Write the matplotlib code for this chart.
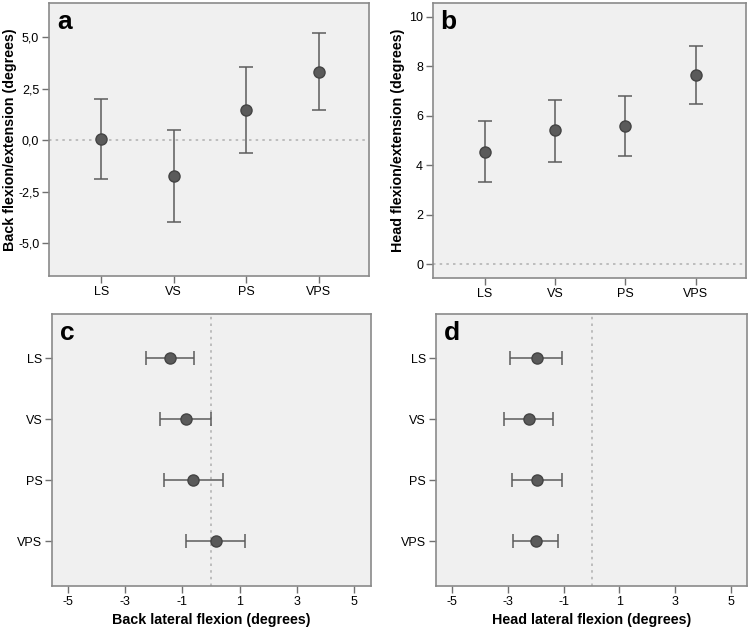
import matplotlib
matplotlib.use("Agg")
import matplotlib.pyplot as plt
from matplotlib.ticker import FuncFormatter

plt.rcParams['font.family'] = ['Liberation Sans', 'DejaVu Sans']
plt.rcParams['axes.unicode_minus'] = False

groups = ['LS', 'VS', 'PS', 'VPS']

# a: back flexion/extension
back_fe_mean = [0.06, -1.74, 1.45, 3.29]
back_fe_lo = [-1.87, -3.98, -0.63, 1.44]
back_fe_hi = [1.98, 0.50, 3.55, 5.19]

# b: head flexion/extension
head_fe_mean = [4.54, 5.41, 5.58, 7.66]
head_fe_lo = [3.31, 4.15, 4.38, 6.48]
head_fe_hi = [5.78, 6.65, 6.79, 8.82]

# c: back lateral flexion
back_lf_mean = [-1.44, -0.88, -0.63, 0.16]
back_lf_lo = [-2.28, -1.77, -1.65, -0.88]
back_lf_hi = [-0.59, 0.00, 0.41, 1.20]

# d: head lateral flexion
head_lf_mean = [-1.96, -2.25, -1.95, -2.00]
head_lf_lo = [-2.90, -3.14, -2.86, -2.80]
head_lf_hi = [-1.05, -1.36, -1.05, -1.20]

bg = '#f0f0f0'
edge = '#8a8a8a'
bar_col = '#5c5c5c'
dot_col = '#5a5a5a'

fig = plt.figure(figsize=(7.5, 6.33), dpi=100)
ax_a = fig.add_axes([0.0653, 0.564, 0.4267, 0.431])
ax_b = fig.add_axes([0.577, 0.561, 0.417, 0.434])
ax_c = fig.add_axes([0.0693, 0.0743, 0.425, 0.43])
ax_d = fig.add_axes([0.581, 0.0743, 0.415, 0.43])


def style(ax):
    ax.set_facecolor(bg)
    for s in ax.spines.values():
        s.set_color(edge)
        s.set_linewidth(1.2)
    ax.tick_params(length=5, width=1, color='#707070', labelsize=9, pad=2)


def draw(ax, mean, lo, hi, vertical=True):
    pos = list(range(len(groups)))
    err = [[m - l for m, l in zip(mean, lo)], [h - m for m, h in zip(mean, hi)]]
    if vertical:
        ax.errorbar(pos, mean, yerr=err, fmt='o', color=bar_col, ecolor=bar_col,
                    elinewidth=1.1, capsize=5, capthick=1.1, markersize=8,
                    markerfacecolor=dot_col, markeredgecolor='#444444', zorder=3)
    else:
        ax.errorbar(mean, pos, xerr=err, fmt='o', color=bar_col, ecolor=bar_col,
                    elinewidth=1.1, capsize=5, capthick=1.1, markersize=8,
                    markerfacecolor=dot_col, markeredgecolor='#444444', zorder=3)


for ax in (ax_a, ax_b, ax_c, ax_d):
    style(ax)

# a
draw(ax_a, back_fe_mean, back_fe_lo, back_fe_hi)
ax_a.axhline(0, color='#b5b5b5', linestyle=(0, (1.5, 2.5)), linewidth=1.2, zorder=1)
ax_a.set_xlim(-0.72, 3.69)
ax_a.set_ylim(-6.6, 6.65)
ax_a.set_yticks([-5, -2.5, 0, 2.5, 5])
ax_a.yaxis.set_major_formatter(FuncFormatter(lambda v, p: f'{v:.1f}'.replace('.', ',')))
ax_a.set_xticks(range(len(groups)))
ax_a.set_xticklabels(groups)
ax_a.set_ylabel('Back flexion/extension (degrees)', fontsize=10.3, fontweight='bold', labelpad=1)
ax_a.text(0.025, 0.975, 'a', transform=ax_a.transAxes, fontsize=19,
          fontweight='bold', va='top', ha='left')

# b
draw(ax_b, head_fe_mean, head_fe_lo, head_fe_hi)
ax_b.axhline(0, color='#b5b5b5', linestyle=(0, (1.5, 2.5)), linewidth=1.2, zorder=1)
ax_b.set_xlim(-0.74, 3.71)
ax_b.set_ylim(-0.54, 10.54)
ax_b.set_yticks([0, 2, 4, 6, 8, 10])
ax_b.set_xticks(range(len(groups)))
ax_b.set_xticklabels(groups)
ax_b.set_ylabel('Head flexion/extension (degrees)', fontsize=10.3, fontweight='bold', labelpad=3)
ax_b.text(0.025, 0.975, 'b', transform=ax_b.transAxes, fontsize=19,
          fontweight='bold', va='top', ha='left')

# c
draw(ax_c, back_lf_mean, back_lf_lo, back_lf_hi, vertical=False)
ax_c.axvline(0, color='#b5b5b5', linestyle=(0, (1.5, 2.5)), linewidth=1.2, zorder=1)
ax_c.set_xlim(-5.55, 5.57)
ax_c.set_ylim(3.73, -0.73)
ax_c.set_xticks([-5, -3, -1, 1, 3, 5])
ax_c.set_yticks(range(len(groups)))
ax_c.set_yticklabels(groups)
ax_c.set_xlabel('Back lateral flexion (degrees)', fontsize=10.3, fontweight='bold')
ax_c.text(0.025, 0.975, 'c', transform=ax_c.transAxes, fontsize=19,
          fontweight='bold', va='top', ha='left')

# d
draw(ax_d, head_lf_mean, head_lf_lo, head_lf_hi, vertical=False)
ax_d.axvline(0, color='#b5b5b5', linestyle=(0, (1.5, 2.5)), linewidth=1.2, zorder=1)
ax_d.set_xlim(-5.57, 5.56)
ax_d.set_ylim(3.73, -0.73)
ax_d.set_xticks([-5, -3, -1, 1, 3, 5])
ax_d.set_yticks(range(len(groups)))
ax_d.set_yticklabels(groups)
ax_d.set_xlabel('Head lateral flexion (degrees)', fontsize=10.3, fontweight='bold')
ax_d.text(0.025, 0.975, 'd', transform=ax_d.transAxes, fontsize=19,
          fontweight='bold', va='top', ha='left')

fig.savefig('out.png', dpi=100)
